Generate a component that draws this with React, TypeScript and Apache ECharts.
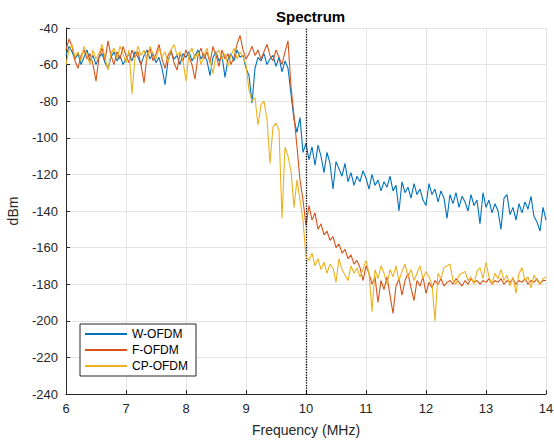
import React, { useEffect, useRef } from "react";
import * as echarts from "echarts";

const xStart = 6;
const xStep = 0.05;

const wOfdm = [
  -55, -50, -53, -57, -54, -60, -56, -52, -58, -55, -60, -56, -54, -59, -62, -56, -53, -58, -55, -60,
  -57, -54, -58, -53, -56, -60, -55, -52, -57, -54, -59, -56, -62, -71, -58, -53, -57, -55, -60, -54,
  -56, -53, -58, -55, -52, -57, -54, -58, -66, -56, -53, -58, -55, -67, -57, -54, -58, -52, -56, -55,
  -62, -66, -81, -62, -56, -58, -54, -60, -57, -55, -61, -56, -64, -58, -62, -76, -90, -97, -89, -108,
  -103, -112, -105, -115, -104, -110, -119, -108, -114, -128, -113, -117, -121, -114, -124, -119, -126, -121, -124, -118,
  -122, -128, -120, -126, -123, -129, -124, -127, -121, -129, -126, -140, -124, -130, -127, -133, -125, -131, -128, -134,
  -137, -125, -131, -128, -135, -129, -133, -144, -131, -136, -130, -138, -132, -135, -140, -131, -137, -134, -147, -130,
  -138, -134, -141, -136, -140, -150, -133, -131, -142, -138, -145, -136, -141, -135, -139, -132, -143, -146, -151, -138,
  -145,
];

const fOfdm = [
  -52, -46, -50, -58, -62, -55, -52, -57, -54, -60, -69, -56, -51, -58, -47, -55, -60, -53, -57, -50,
  -55, -59, -52, -56, -53, -60, -70, -55, -51, -58, -54, -49, -57, -62, -55, -52, -59, -63, -54, -58,
  -52, -56, -60, -68, -55, -51, -57, -53, -59, -50, -55, -61, -52, -57, -54, -60, -56, -49, -44, -52,
  -57, -54, -50, -55, -52, -57, -53, -49, -55, -58, -52, -56, -60, -53, -47, -72, -88, -105, -123, -134,
  -148, -137, -145, -141, -150, -147, -153, -151, -156, -154, -160, -158, -163, -161, -166, -164, -169, -167, -171, -178,
  -170, -174, -180, -176, -190, -178, -183, -176, -186, -196, -181, -177, -186, -178, -174, -182, -189, -178, -181, -176,
  -185, -179, -182, -178, -180, -177, -181, -179, -178, -180, -177, -179, -181, -178, -180, -177, -179, -178, -180, -178,
  -179, -177, -180, -178, -179, -177, -180, -178, -179, -177, -180, -178, -179, -177, -180, -178, -179, -177, -180, -178,
  -178,
];

const cpOfdm = [
  -60, -52, -49, -56, -53, -58, -50, -55, -60, -52, -57, -54, -49, -56, -63, -54, -51, -57, -50, -54,
  -59, -52, -76, -56, -50, -55, -52, -58, -50, -54, -57, -51, -56, -53, -59, -52, -49, -55, -53, -58,
  -69, -54, -51, -57, -53, -60, -55, -51, -58, -65, -54, -52, -57, -54, -61, -55, -51, -57, -53, -56,
  -60, -74, -80, -78, -93, -82, -80, -90, -114, -94, -92, -96, -144, -105, -110, -118, -138, -123, -134, -145,
  -165, -167, -163, -170, -166, -172, -168, -174, -169, -171, -179, -166, -172, -175, -178, -170, -174, -171, -176, -172,
  -167, -174, -195, -172, -177, -170, -174, -180, -172, -176, -170, -178, -173, -169, -176, -172, -178, -174, -170, -177,
  -173, -176, -180, -200, -174, -177, -171, -170, -169, -178, -180, -175, -174, -173, -178, -176, -180, -173, -171, -177,
  -168, -176, -180, -174, -177, -172, -178, -175, -181, -176, -185, -174, -171, -178, -176, -182, -175, -178, -180, -177,
  -176,
];

const seriesNames = ["W-OFDM", "F-OFDM", "CP-OFDM"];
const seriesColors = ["#0072BD", "#D95319", "#EDB120"];
const markerFreq = 10;

const toPairs = (vals: number[]) =>
  vals.map((v, i) => [+(xStart + i * xStep).toFixed(2), v]);

export default function App() {
  const ref = useRef<HTMLDivElement>(null);
  useEffect(() => {
    document.body.style.margin = "0";
    if (!ref.current) return;
    const chart = echarts.init(ref.current, undefined, { renderer: "svg" });
    const font = "Liberation Sans, Arial, Helvetica, sans-serif";
    const allData = [wOfdm, fOfdm, cpOfdm];
    chart.setOption({
      animation: false,
      backgroundColor: "#ffffff",
      textStyle: { fontFamily: font },
      title: {
        text: "Spectrum",
        left: 271,
        top: 4,
        textStyle: { fontSize: 15, fontWeight: "bold", color: "#000", fontFamily: font },
      },
      grid: { left: 66, right: 8, top: 28, bottom: 47, outerBoundsMode: "none", containLabel: false },
      legend: {
        orient: "vertical",
        left: 80,
        top: 324,
        icon: "rect",
        itemWidth: 42,
        itemHeight: 2,
        itemGap: 4,
        padding: [4, 8, 4, 5],
        borderColor: "#262626",
        borderWidth: 1,
        backgroundColor: "#ffffff",
        textStyle: { fontSize: 12, color: "#000", fontFamily: font },
        data: seriesNames,
      },
      xAxis: {
        type: "value",
        min: 6,
        max: 14,
        interval: 1,
        name: "Frequency (MHz)",
        nameLocation: "middle",
        nameGap: 29,
        nameTextStyle: { fontSize: 14, color: "#262626" },
        axisLine: { show: true, lineStyle: { color: "#262626", width: 1 } },
        axisTick: { show: true, inside: true, length: 4, lineStyle: { color: "#262626" } },
        axisLabel: { fontSize: 13, color: "#262626", margin: 8 },
        splitLine: { show: true, lineStyle: { color: "#e3e3e3", width: 1 } },
      },
      yAxis: {
        type: "value",
        min: -240,
        max: -40,
        interval: 20,
        name: "dBm",
        nameLocation: "middle",
        nameGap: 46,
        nameTextStyle: { fontSize: 14, color: "#262626" },
        axisLine: { show: true, lineStyle: { color: "#262626", width: 1 } },
        axisTick: { show: true, inside: true, length: 4, lineStyle: { color: "#262626" } },
        axisLabel: { fontSize: 13, color: "#262626", margin: 8 },
        splitLine: { show: true, lineStyle: { color: "#e3e3e3", width: 1 } },
      },
      series: allData.map((vals, k) => ({
        name: seriesNames[k],
        type: "line",
        data: toPairs(vals),
        showSymbol: false,
        symbol: "none",
        color: seriesColors[k],
        lineStyle: { width: 1.1, color: seriesColors[k] },
        z: 3 + k,
        markLine:
          k === 0
            ? {
                silent: true,
                symbol: "none",
                label: { show: false },
                lineStyle: { type: "dotted", color: "#000", width: 1.3 },
                data: [{ xAxis: markerFreq }],
              }
            : undefined,
      })),
    });
    return () => chart.dispose();
  }, []);
  return <div ref={ref} style={{ width: 554, height: 441 }} />;
}
